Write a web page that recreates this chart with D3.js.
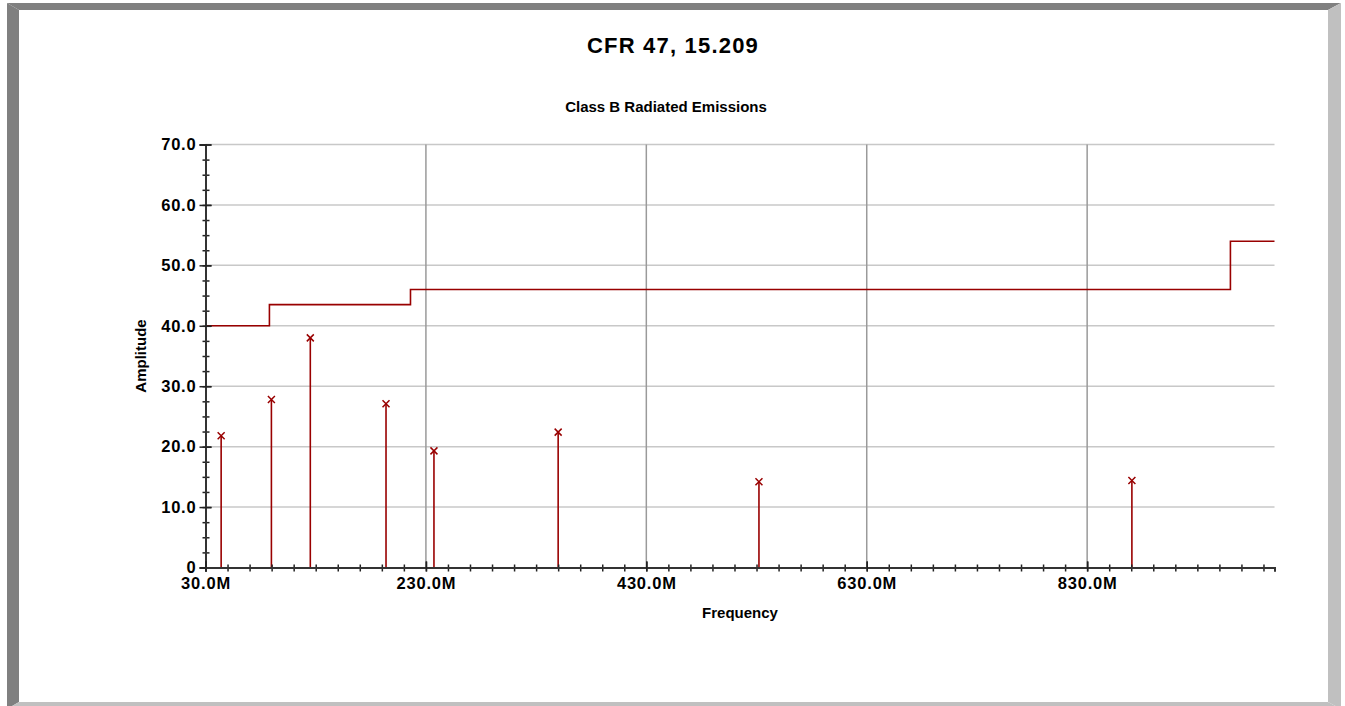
<!DOCTYPE html>
<html>
<head>
<meta charset="utf-8">
<script src="https://cdn.jsdelivr.net/npm/d3@7"></script>
<style>
  html, body { margin: 0; padding: 0; background: #fff; }
  text { font-family: "Liberation Sans", Arial, sans-serif; font-weight: bold; fill: #000; }
</style>
</head>
<body>
<div id="chart"></div>
<script>
// measured emissions (MHz, dBuV/m)
const emFreq = [44.2, 89.8, 125.1, 193.8, 237.3, 350.0, 532.2, 870.6]
const emAmp = [21.8, 27.8, 38.0, 27.1, 19.3, 22.4, 14.2, 14.4]
// class B limit, step after each breakpoint
const limitFreq = [30, 88, 216, 960, 1000]
const limitLevel = [40, 43.5, 46, 54, 54]
const xMajor = [30, 230, 430, 630, 830]
const yMajor = [0, 10, 20, 30, 40, 50, 60, 70]

const W = 1345, H = 706
const red = "#990000"
const x = d3.scaleLinear([30, 1000], [205.5, 1274.5])
const y = d3.scaleLinear([0, 70], [567.5, 144.5])
const xMinor = d3.range(30, 1000.1, 20)
const yMinor = d3.range(0, 70.1, 2.5)

const svg = d3.select('#chart')
    .append('svg')
    .attr('width', W)
    .attr('height', H)

// bevelled frame
const frame = [
    {c: "#808080", p: [[7, 3], [1341, 3], [1328, 10], [19, 10]]},
    {c: "#808080", p: [[7, 3], [19, 10], [19, 702], [7, 709]]},
    {c: "#c0c0c0", p: [[1341, 3], [1341, 709], [1328, 702], [1328, 10]]},
    {c: "#c0c0c0", p: [[7, 709], [19, 702], [1328, 702], [1341, 709]]}
]
svg.selectAll("polygon.frame")
    .data(frame)
    .join("polygon")
    .attr("fill", d => d.c)
    .attr("points", d => d.p.join(" "))

svg.append("text")
    .attr("x", 673).attr("y", 53)
    .attr("text-anchor", "middle")
    .attr("font-size", 22)
    .attr("letter-spacing", 1.2)
    .text("CFR 47, 15.209")

svg.append("text")
    .attr("x", 666).attr("y", 112)
    .attr("text-anchor", "middle")
    .attr("font-size", 15)
    .text("Class B Radiated Emissions")

// grid
svg.append("g")
    .attr("stroke", "#c8c8c8")
    .attr("stroke-width", 1.5)
    .selectAll("line")
    .data(yMajor.filter(d => d > 0))
    .join("line")
    .attr("x1", x(30)).attr("x2", x(1000))
    .attr("y1", d => y(d)).attr("y2", d => y(d))

svg.append("g")
    .attr("stroke", "#9a9a9a")
    .attr("stroke-width", 1.5)
    .selectAll("line")
    .data(xMajor.filter(d => d > 30))
    .join("line")
    .attr("x1", d => x(d)).attr("x2", d => x(d))
    .attr("y1", y(70)).attr("y2", y(0))

// limit line
const limit = limitFreq.map((f, i) => [f, limitLevel[i]])
svg.append("path")
    .datum(limit)
    .attr("fill", "none")
    .attr("stroke", red)
    .attr("stroke-width", 1.6)
    .attr("d", d3.line(d => x(d[0]), d => y(d[1])).curve(d3.curveStepAfter))

// emission stems and markers
const em = emFreq.map((f, i) => ({f, a: emAmp[i]}))
svg.append("g")
    .attr("stroke", red)
    .attr("stroke-width", 1.6)
    .selectAll("line")
    .data(em)
    .join("line")
    .attr("x1", d => x(d.f)).attr("x2", d => x(d.f))
    .attr("y1", y(0)).attr("y2", d => y(d.a))

svg.append("g")
    .attr("stroke", red)
    .attr("stroke-width", 1.5)
    .attr("fill", "none")
    .selectAll("path")
    .data(em)
    .join("path")
    .attr("transform", d => `translate(${x(d.f)},${y(d.a)})`)
    .attr("d", "M-3.5,-3.5L3.5,3.5M-3.5,3.5L3.5,-3.5")

// axes
const yAxis = svg.append("g")
    .attr("transform", `translate(${x(30)},0)`)
    .call(d3.axisLeft(y).tickValues(yMinor).tickFormat("").tickSizeOuter(0).tickSize(3))
yAxis.selectAll(".tick line").attr("x1", 4)
yAxis.call(g => g.append("g")
    .call(d3.axisLeft(y).tickValues(yMajor).tickSizeOuter(0).tickSize(6).tickPadding(3)
        .tickFormat(d => d === 0 ? "0" : d.toFixed(1))))
yAxis.selectAll(".tick line").filter(d => yMajor.includes(d)).attr("x1", 6)
yAxis.selectAll("line").attr("stroke", "#222").attr("stroke-width", 1.5)
yAxis.selectAll("path.domain").attr("stroke", "#333").attr("stroke-width", 2)
yAxis.selectAll("text")
    .attr("font-size", 16.5).attr("letter-spacing", 0.8)
    .attr("font-family", null).attr("fill", "#000")

const xAxis = svg.append("g")
    .attr("transform", `translate(0,${y(0)})`)
    .call(d3.axisBottom(x).tickValues(xMinor).tickFormat("").tickSizeOuter(0).tickSize(4))
xAxis.selectAll(".tick line").attr("y1", -3)
xAxis.call(g => g.append("g")
    .call(d3.axisBottom(x).tickValues(xMajor).tickSizeOuter(0).tickSize(4).tickPadding(6)
        .tickFormat(d => d.toFixed(1) + "M")))
xAxis.selectAll(".tick line").filter(d => xMajor.includes(d)).attr("y1", -6)
xAxis.selectAll("line").attr("stroke", "#222").attr("stroke-width", 1.5)
xAxis.selectAll("path.domain").attr("stroke", "#333").attr("stroke-width", 2)
xAxis.selectAll("text")
    .attr("font-size", 16.5).attr("letter-spacing", 0.8)
    .attr("font-family", null).attr("fill", "#000")

svg.append("text")
    .attr("x", x(515)).attr("y", 618)
    .attr("text-anchor", "middle")
    .attr("font-size", 15)
    .text("Frequency")

svg.append("text")
    .attr("transform", `translate(146,${y(35)}) rotate(-90)`)
    .attr("text-anchor", "middle")
    .attr("font-size", 15)
    .text("Amplitude")
</script>
</body>
</html>
